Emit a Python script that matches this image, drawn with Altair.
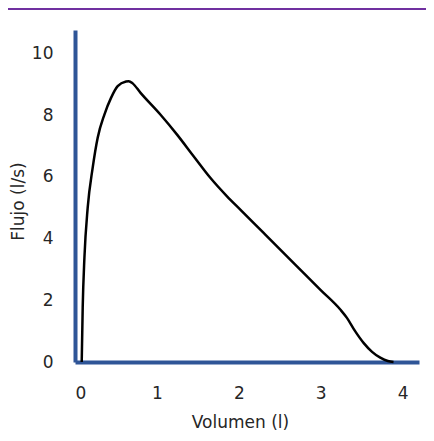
import altair as alt
import pandas as pd

volumen = [0.082, 0.094, 0.115, 0.155, 0.216, 0.277, 0.359, 0.44, 0.521, 0.623,
           0.655, 0.704, 0.798, 1.042, 1.246, 1.448, 1.652, 1.856, 2.018, 2.3,
           2.71, 3.0, 3.239, 3.32, 3.42, 3.523, 3.627, 3.727, 3.82, 3.889]
flujo = [0, 1.76, 3.38, 5.0, 6.3, 7.27, 8.02, 8.56, 8.94, 9.09,
         9.1, 9.03, 8.73, 8.02, 7.37, 6.67, 5.97, 5.37, 4.94, 4.19,
         3.1, 2.33, 1.70, 1.43, 1.0, 0.62, 0.33, 0.14, 0.03, 0]
x_ticks = [0, 1, 2, 3, 4]
y_ticks = [0, 2, 4, 6, 8, 10]

df = pd.DataFrame({"v": volumen, "f": flujo})

FONT = "DejaVu Sans"
AXIS_COLOR = "#2F5597"
TEXT = "#262626"

curve = alt.Chart(df).mark_line(color="black", strokeWidth=2.5, interpolate="monotone").encode(
    x=alt.X("v:Q", scale=alt.Scale(domain=[0, 4.2], nice=False),
            axis=alt.Axis(values=x_ticks, title="Volumen (l)", grid=False, ticks=False, tickSize=0,
                          domainColor=AXIS_COLOR, domainWidth=4,
                          labelFont=FONT, labelFontSize=17, labelColor=TEXT,
                          labelPadding=31, labelBaseline="middle",
                          titleFont=FONT, titleFontSize=17, titleColor=TEXT, titleFontWeight="normal",
                          titleX=165, titleY=60, titleBaseline="middle")),
    y=alt.Y("f:Q", scale=alt.Scale(domain=[0, 10.76], nice=False),
            axis=alt.Axis(values=y_ticks, title="Flujo (l/s)", grid=False, ticks=False, tickSize=0,
                          domainColor=AXIS_COLOR, domainWidth=4,
                          labelFont=FONT, labelFontSize=17, labelColor=TEXT,
                          labelPadding=22,
                          titleFont=FONT, titleFontSize=17, titleColor=TEXT, titleFontWeight="normal",
                          titleX=-57, titleY=171, titleBaseline="middle")),
)

top_line = alt.Chart(pd.DataFrame({"a": [0]})).mark_rule(color="#7030A0", strokeWidth=2).encode(
    x=alt.value(-67), x2=alt.value(351), y=alt.value(-21)
)

chart = alt.layer(curve, top_line).properties(
    width=344, height=332,
    autosize=alt.AutoSizeParams(type="none"),
    padding={"left": 67, "top": 22, "right": 7, "bottom": 75},
).configure_view(stroke=None)

chart.save("out.html", embed_options={"renderer": "svg", "actions": False})
